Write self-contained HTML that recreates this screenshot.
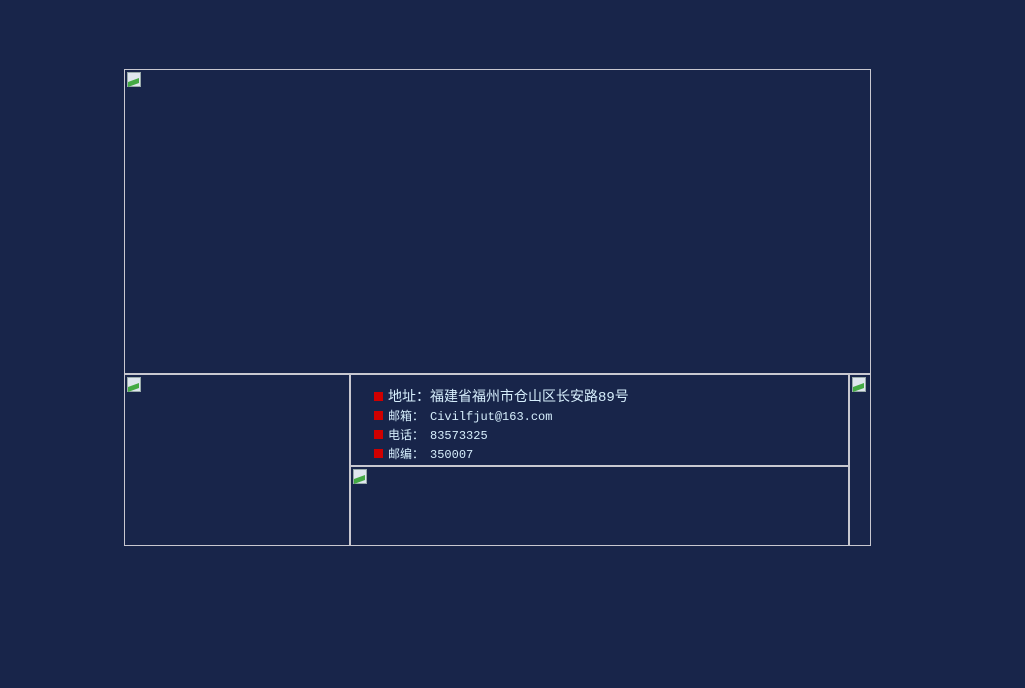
<!DOCTYPE html>
<html><head><meta charset="utf-8"><style>
body{margin:0;width:1025px;height:688px;background:#18254a;overflow:hidden;position:relative;font-family:"Liberation Mono","WenQuanYi Zen Hei","Noto Sans CJK SC",monospace;color:#d6eefc}
.b{position:absolute;border:1px solid #c8c8d0;box-sizing:border-box}
.ic{position:absolute;width:16px;height:16px}
.ic::before{content:"";position:absolute;left:1px;top:1px;width:12px;height:13px;background:#dfe6ee;border:1px solid #9aa}
.ic::after{content:"";position:absolute;left:2px;top:9px;width:11px;height:5px;background:#4a4;transform:skewY(-20deg)}
.l{position:absolute;left:374px;font-size:12px;line-height:19px;white-space:nowrap}
.l i{display:inline-block;width:9px;height:9px;background:#d00000;margin-right:5px;vertical-align:0px}
.c{margin-right:6px}
</style></head><body>
<div class="b" style="left:124px;top:69px;width:747px;height:306px"></div>
<div class="b" style="left:124px;top:373px;width:227px;height:173px"></div>
<div class="b" style="left:349px;top:373px;width:501px;height:94px"></div>
<div class="b" style="left:349px;top:465px;width:501px;height:81px"></div>
<div class="b" style="left:848px;top:373px;width:23px;height:173px"></div>
<div class="ic" style="left:126px;top:71px"></div>
<div class="ic" style="left:126px;top:376px"></div>
<div class="ic" style="left:851px;top:376px"></div>
<div class="ic" style="left:352px;top:468px"></div>
<div class="l" style="top:389px;font-size:14px"><i></i>地址：福建省福州市仓山区长安路89号</div>
<div class="l" style="top:408px"><i></i>邮箱<span class="c">：</span>Civilfjut@163.com</div>
<div class="l" style="top:427px"><i></i>电话<span class="c">：</span>83573325</div>
<div class="l" style="top:446px"><i></i>邮编<span class="c">：</span>350007</div>
</body></html>
